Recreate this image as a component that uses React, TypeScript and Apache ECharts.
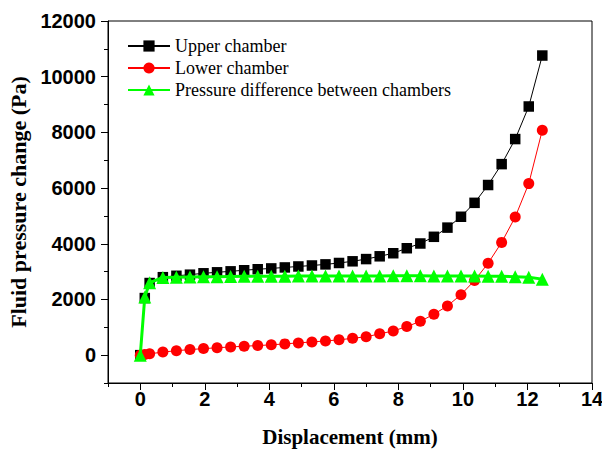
import React, { useEffect, useRef } from "react";
import * as echarts from "echarts";

const displacement = [
  0, 0.14, 0.29, 0.7, 1.12, 1.54, 1.96, 2.38, 2.8, 3.22, 3.64, 4.06, 4.48, 4.9,
  5.32, 5.74, 6.16, 6.58, 7.0, 7.42, 7.84, 8.26, 8.68, 9.1, 9.52, 9.94, 10.36,
  10.78, 11.2, 11.62, 12.04, 12.46,
];

const upperChamber = [
  0, 2050, 2590, 2800, 2850, 2890, 2940, 2975, 3010, 3050, 3085, 3115, 3150,
  3185, 3220, 3260, 3310, 3370, 3450, 3550, 3660, 3840, 4010, 4250, 4580, 4970,
  5470, 6110, 6860, 7760, 8930, 10760,
];

const lowerChamber = [
  0, 20, 48, 110, 160, 200, 235, 265, 295, 320, 345, 370, 405, 440, 475, 510,
  550, 605, 660, 765, 870, 1025, 1215, 1470, 1767, 2173, 2680, 3300, 4050,
  4960, 6160, 8080,
];

const pressureDifference = [
  0, 2090, 2600, 2790, 2800, 2810, 2815, 2820, 2825, 2830, 2830, 2835, 2835,
  2840, 2840, 2840, 2845, 2845, 2845, 2845, 2850, 2850, 2850, 2845, 2845, 2840,
  2840, 2835, 2830, 2820, 2800, 2730,
];

const xMajorTicks = [0, 2, 4, 6, 8, 10, 12, 14];
const xMinorTicks = [-1, 1, 3, 5, 7, 9, 11, 13];
const yMajorTicks = [0, 2000, 4000, 6000, 8000, 10000, 12000];
const yMinorTicks = [-1000, 1000, 3000, 5000, 7000, 9000, 11000];

const seriesNames = [
  "Upper chamber",
  "Lower chamber",
  "Pressure difference between chambers",
];

const pairs = (ys: number[]) => displacement.map((x, i) => [x, ys[i]]);

export default function App() {
  const ref = useRef<HTMLDivElement>(null);
  useEffect(() => {
    if (!ref.current) return;
    const chart = echarts.init(ref.current, undefined, { renderer: "svg" });
    const labelFont = {
      fontFamily: "Liberation Sans",
      fontWeight: "bold" as const,
      fontSize: 20,
      color: "#000",
    };
    const titleFont = {
      fontFamily: "Liberation Serif",
      fontWeight: "bold" as const,
      fontSize: 21,
      color: "#000",
    };
    const axisLine = {
      show: true,
      onZero: false,
      lineStyle: { color: "#000", width: 1 },
    };
    const hiddenLine = { show: false, onZero: false };
    const plain = (v: number) => String(v);
    chart.setOption({
      animation: false,
      backgroundColor: "#fff",
      grid: {
        left: 108,
        right: 10,
        top: 21,
        bottom: 69,
        outerBoundsMode: "none",
        containLabel: false,
        show: true,
        borderColor: "#000",
        borderWidth: 1,
        backgroundColor: "transparent",
      },
      legend: {
        orient: "vertical",
        left: 127,
        top: 37,
        padding: 0,
        itemWidth: 42,
        itemHeight: 14,
        itemGap: 4,
        data: seriesNames,
        textStyle: {
          fontFamily: "Liberation Serif",
          fontSize: 18,
          color: "#000",
        },
      },
      xAxis: [
        {
          type: "value",
          min: -1,
          max: 14,
          position: "bottom",
          axisLine,
          axisTick: {
            show: true,
            inside: false,
            length: 7,
            customValues: xMajorTicks,
            lineStyle: { color: "#000" },
          },
          axisLabel: {
            ...labelFont,
            margin: 6,
            customValues: xMajorTicks,
            formatter: plain,
          },
          splitLine: { show: false },
          name: "Displacement (mm)",
          nameLocation: "middle",
          nameGap: 43,
          nameTextStyle: titleFont,
        },
        {
          type: "value",
          min: -1,
          max: 14,
          position: "bottom",
          axisLine: hiddenLine,
          axisTick: {
            show: true,
            length: 4,
            customValues: xMinorTicks,
            lineStyle: { color: "#000" },
          },
          axisLabel: { show: false },
          splitLine: { show: false },
        },
      ],
      yAxis: [
        {
          type: "value",
          min: -1000,
          max: 12000,
          position: "left",
          axisLine,
          axisTick: {
            show: true,
            length: 7,
            customValues: yMajorTicks,
            lineStyle: { color: "#000" },
          },
          axisLabel: {
            ...labelFont,
            margin: 12,
            customValues: yMajorTicks,
            formatter: plain,
          },
          splitLine: { show: false },
          name: "Fluid pressure change (Pa)",
          nameLocation: "middle",
          nameGap: 70,
          nameTextStyle: { ...titleFont, fontSize: 22 },
        },
        {
          type: "value",
          min: -1000,
          max: 12000,
          position: "left",
          axisLine: hiddenLine,
          axisTick: {
            show: true,
            length: 4,
            customValues: yMinorTicks,
            lineStyle: { color: "#000" },
          },
          axisLabel: { show: false },
          splitLine: { show: false },
        },
      ],
      series: [
        {
          name: seriesNames[0],
          type: "line",
          data: pairs(upperChamber),
          symbol: "rect",
          symbolSize: 10.5,
          color: "#000",
          itemStyle: { color: "#000" },
          lineStyle: { color: "#000", width: 1 },
          z: 2,
        },
        {
          name: seriesNames[1],
          type: "line",
          data: pairs(lowerChamber),
          symbol: "circle",
          symbolSize: 11,
          color: "#ff0000",
          itemStyle: { color: "#ff0000" },
          lineStyle: { color: "#ff0000", width: 1 },
          z: 3,
        },
        {
          name: seriesNames[2],
          type: "line",
          data: pairs(pressureDifference),
          symbol: "triangle",
          symbolSize: 13,
          color: "#00ff00",
          itemStyle: { color: "#00ff00" },
          lineStyle: { color: "#00ff00", width: 3 },
          z: 4,
        },
      ],
    });
    return () => chart.dispose();
  }, []);
  return (
    <div
      ref={ref}
      style={{ width: 602, height: 452, position: "absolute", left: 0, top: 0 }}
    />
  );
}
